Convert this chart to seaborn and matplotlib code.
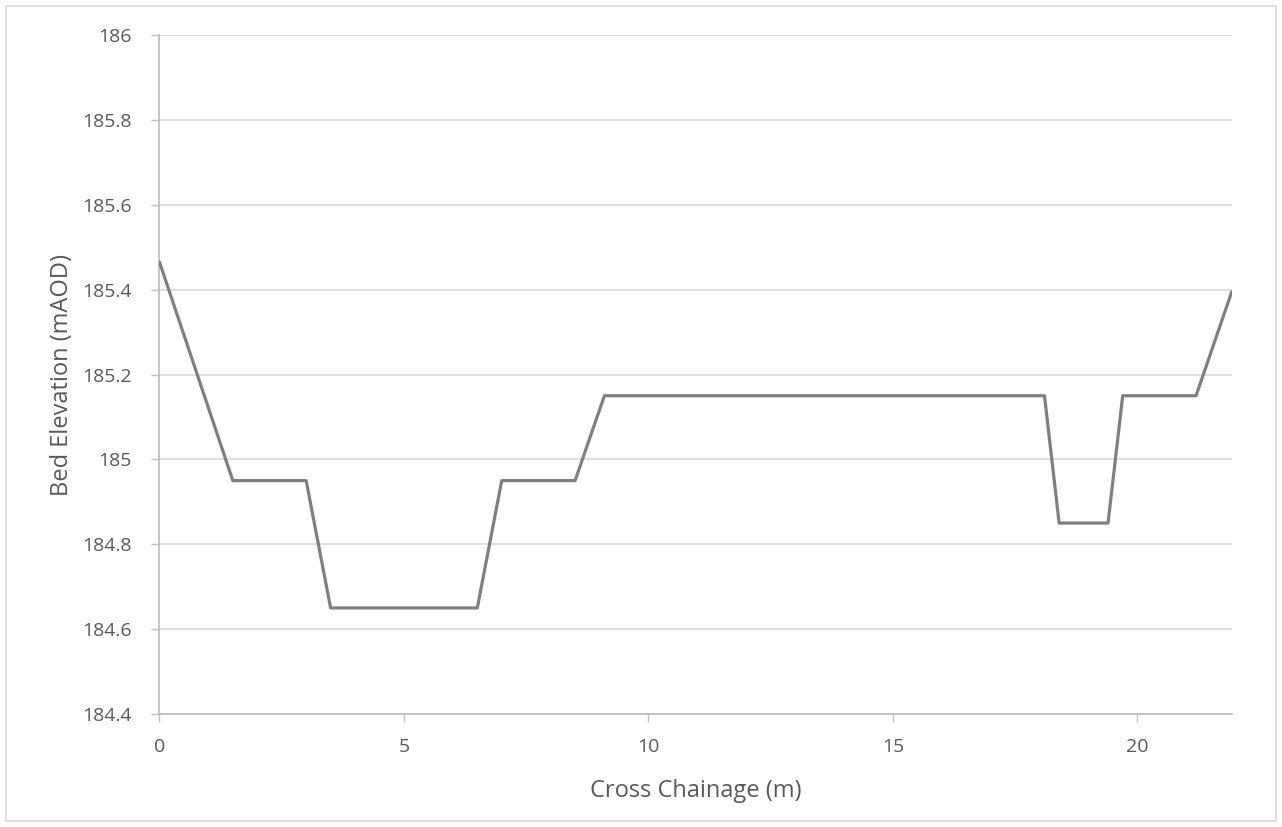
import matplotlib
matplotlib.use("Agg")
import matplotlib.pyplot as plt
import seaborn as sns
import pandas as pd
from matplotlib.ticker import FuncFormatter
from matplotlib.patches import Rectangle

chainage = [0.0, 1.5, 3.0, 3.5, 6.5, 7.0, 8.5, 9.1, 18.1, 18.4, 19.4, 19.7, 21.2, 21.93]
elevation = [185.465, 184.95, 184.95, 184.65, 184.65, 184.95, 184.95, 185.15, 185.15,
             184.85, 184.85, 185.15, 185.15, 185.395]
x_ticks = [0, 5, 10, 15, 20]
y_ticks = [184.4, 184.6, 184.8, 185.0, 185.2, 185.4, 185.6, 185.8, 186.0]

df = pd.DataFrame({"Cross Chainage (m)": chainage, "Bed Elevation (mAOD)": elevation})

sns.set_theme(style="white")
plt.rcParams["font.family"] = ["Open Sans", "DejaVu Sans"]

fig = plt.figure(figsize=(12.82, 8.27), dpi=100)
ax = fig.add_axes([0.1244, 0.1366, 0.9608 - 0.1244, 0.9577 - 0.1366])

sns.lineplot(data=df, x="Cross Chainage (m)", y="Bed Elevation (mAOD)", sort=False,
             color="#7f7f7f", linewidth=2.3, ax=ax, zorder=3)

ax.set_xlim(0, chainage[-1])
ax.set_ylim(184.4, 186.0)
ax.set_xticks(x_ticks)
ax.set_yticks(y_ticks)
ax.yaxis.set_major_formatter(FuncFormatter(lambda v, p: f"{v:.1f}".rstrip("0").rstrip(".")))
ax.grid(axis="y", color="#d9d9d9", linewidth=1.2)
ax.grid(axis="x", visible=False)
ax.set_axisbelow(True)

for s in ["top", "right"]:
    ax.spines[s].set_visible(False)
for s in ["left", "bottom"]:
    ax.spines[s].set_color("#bfbfbf")
    ax.spines[s].set_linewidth(1.3)

ax.tick_params(axis="both", which="major", direction="out", length=6, width=1.0,
               color="#bfbfbf", labelcolor="#595959", labelsize=14)
ax.tick_params(axis="x", pad=11, bottom=True)
ax.tick_params(axis="y", pad=14, left=True)

ax.set_xlabel("Cross Chainage (m)", fontsize=17, color="#595959", labelpad=17)
ax.set_ylabel("Bed Elevation (mAOD)", fontsize=17, color="#595959", labelpad=6)

fig.patches.append(Rectangle((6 / 1282, 6 / 827), 1 - 12 / 1282, 1 - 12 / 827,
                             transform=fig.transFigure, fill=False,
                             edgecolor="#d9d9d9", linewidth=1.2))

fig.savefig("out.png", dpi=100)
